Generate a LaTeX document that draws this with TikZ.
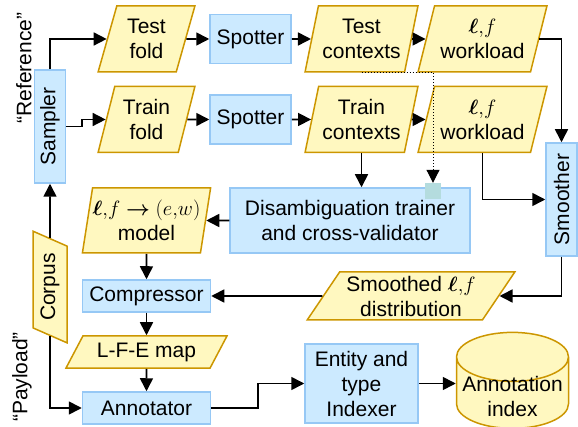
\documentclass[tikz,border=0pt]{standalone}
\usepackage{amsmath}
\usepackage{fontspec}
\setmainfont{Liberation Sans}
\usetikzlibrary{shapes,arrows.meta}
\usetikzlibrary{positioning}
\definecolor{boxfill}{RGB}{204,234,255}
\definecolor{boxdraw}{RGB}{150,200,245}
\definecolor{iofill}{RGB}{255,248,192}
\definecolor{iodraw}{RGB}{204,150,0}
\definecolor{portfill}{RGB}{180,220,222}
\tikzstyle{block} = [rectangle, draw=boxdraw, fill=boxfill, line width=1.5pt,
    inner sep=0pt, align=center, minimum width=81pt, minimum height=49pt]
\tikzstyle{vblock} = [block, rotate=90, minimum width=113pt, minimum height=31pt]
\tikzset{io/.style={trapezium, trapezium left angle=#1,
    trapezium right angle={180-#1}, trapezium stretches=true,
    draw=iodraw, fill=iofill, line width=1.5pt, inner sep=0pt, align=center},
  io/.default=72}
\tikzstyle{db} = [draw=iodraw, fill=iofill, line width=1.5pt,
  shape=cylinder, shape border rotate=90, aspect=0.49,
  minimum width=112pt, minimum height=96pt, inner sep=0pt]
\tikzstyle{port} = [rectangle, fill=portfill, minimum size=16pt, inner sep=0pt]
\tikzstyle{line} = [draw, line width=1.6pt, -{Triangle[length=13pt,width=13pt]}]
\tikzstyle{edge} = [draw, line width=1.6pt]
\newcommand{\elf}{$\boldsymbol{\ell}{,}f$}

\begin{document}
\begin{tikzpicture}[x=1pt, y=-1pt, font=\fontsize{21}{25}\selectfont]
  \useasboundingbox (0,0) rectangle (578,427);
  % Place nodes
  \node [vblock] (sampler) at (50,126.5) {Sampler};
  \node [io=73, minimum width=97pt, minimum height=66pt] (tfold) at (146.5,39) {Test\\fold};
  \node [block, right of=tfold, node distance=104pt] (spot1) {Spotter};
  \node [io=73, minimum width=113pt, minimum height=66pt, right of=spot1, node distance=111pt] (tcon) {Test\\contexts};
  \node [io=70, minimum width=129pt, minimum height=66pt, right of=tcon, node distance=121pt] (wl1) {\elf\\workload};

  \node [io=73, minimum width=97pt, minimum height=66pt, below of=tfold, node distance=80.5pt] (trfold) {Train\\fold};
  \node [block, below of=spot1, node distance=80.5pt] (spot2) {Spotter};
  \node [io=73, minimum width=113pt, minimum height=66pt, below of=tcon, node distance=80.5pt] (trcon) {Train\\contexts};
  \node [io=70, minimum width=129pt, minimum height=66pt, below of=wl1, node distance=80.5pt] (wl2) {\elf\\workload};

  \node [vblock] (smoother) at (561.5,199.5) {Smoother};
  \node [block, minimum width=240pt, minimum height=65pt] (trainer) at (350,220.5) {Disambiguation trainer\\and cross-validator};
  \node [port] (port) at (433,191) {};
  \node [io=76, minimum width=127pt, minimum height=65pt] (model) at (146.5,220.5)
    {$\boldsymbol{\ell}{,}f\boldsymbol{\rightarrow}(e{,}w)$\\model};
  \node [block, minimum width=128pt, minimum height=32pt, below of=model, node distance=75.5pt] (comp) {Compressor};
  \node [io=55, minimum width=161pt, minimum height=32pt, below of=comp, node distance=56pt] (lfe) {L-F-E map};
  \node [block, minimum width=128pt, minimum height=32pt, below of=lfe, node distance=56pt] (annot) {Annotator};
  \node [io=57, rotate=90, minimum width=112pt, minimum height=34pt] (corpus) at (50,287) {Corpus};
  \node [io=54, minimum width=208pt, minimum height=48pt] (dist) at (411,296) {Smoothed \elf\\distribution};
  \node [block, minimum width=113pt, minimum height=79pt] (entity) at (361.5,383.5) {Entity and\\type\\Indexer};
  \node [db, label={[align=center, yshift=-3pt]center:Annotation\\index}] (index) at (512.5,393) {\hbox to 100pt{}};

  \node [rotate=90] (reflabel) at (24,68) {“Reference”};
  \node [rotate=90] (paylabel) at (22,377) {“Payload”};

  % Connectors
  \path [line] (sampler.east) |- (tfold.west);
  \path [line] (sampler.south) -- ++(16,0) |- (trfold.west);
  \path [line] (tfold) -- (spot1);
  \path [line] (spot1) -- (tcon);
  \path [line] (tcon) -- (wl1);
  \path [line] (trfold) -- (spot2);
  \path [line] (spot2) -- (trcon);
  \path [line] (trcon) -- (wl2);
  \path [line] (wl1.east) -| (smoother.east);
  \path [line] (wl2.south) |- (smoother.north);
  \path [line] (trcon.south) -- (trcon.south |- trainer.north);
  \path [line, line width=1pt, dotted] (tcon.south) -| (port.north);
  \path [line] (trainer) -- (model);
  \path [line] (model) -- (comp);
  \path [line] (comp) -- (lfe);
  \path [line] (lfe) -- (annot);
  \path [line] (smoother.west) |- (dist.east);
  \path [line] (dist) -- (comp);
  \path [line] (corpus.east) -- (sampler.west);
  \path [line] (corpus.west) |- (annot.west);
  \path [line] (annot.east) -- ++(47,0) |- (entity.west);
  \path [line] (entity.east) -- (entity.east -| index.west);
\end{tikzpicture}
\end{document}
